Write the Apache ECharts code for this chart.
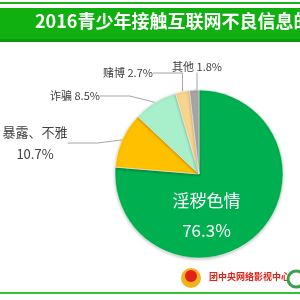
<!DOCTYPE html>
<html>
<head>
<meta charset="utf-8">
<script src="https://cdn.jsdelivr.net/npm/echarts@6/dist/echarts.min.js"></script>
<style>
  html, body { margin: 0; padding: 0; background: #fff; }
  #chart { width: 300px; height: 300px; }
</style>
</head>
<body>
<div id="chart"></div>
<script>
const titleText = '2016青少年接触互联网不良信息的类型'
const categories = ['淫秽色情', '暴露、不雅', '诈骗', '赌博', '其他']
const shares = [76.3, 10.7, 8.5, 2.7, 1.8]
const sliceColors = ['#00b050', '#ffc000', '#a8f0cb', '#f8d58c', '#a6a6a6']

const font = '"Noto Sans CJK SC", "Noto Sans", sans-serif'

// where the outside labels sit (excel style callouts)
const labelSpots = {
    1: { x: 35, y: 121, align: 'center', verticalAlign: 'top' },
    2: { x: 50, y: 96, align: 'left', verticalAlign: 'middle' },
    3: { x: 103, y: 73, align: 'left', verticalAlign: 'middle' },
    4: { x: 197, y: 67, align: 'center', verticalAlign: 'middle' }
}

let chart = echarts.init(document.getElementById('chart'))

let pieData = categories.map((name, i) => {
    let item = { name: name, value: shares[i], itemStyle: { color: sliceColors[i] } }
    if (i === 0) {
        item.label = {
            position: 'inside',
            color: '#fff',
            fontSize: 17,
            lineHeight: 30,
            formatter: '{b}\n{c}%'
        }
        item.labelLine = { show: false }
    }
    if (i === 1) {
        item.label = { formatter: '{b}\n{c}%', fontSize: 13, lineHeight: 22 }
    }
    return item
})

let options = {
    animation: false,
    backgroundColor: '#fff',
    graphic: [
        // top thin stripe + title band
        { type: 'rect', shape: { x: 0, y: 2, width: 300, height: 2 }, style: { fill: '#19b219' } },
        { type: 'rect', shape: { x: 0, y: 8, width: 300, height: 31 }, style: { fill: '#10b010' } },
        { type: 'rect', shape: { x: 0, y: 39, width: 300, height: 3 }, style: { fill: '#0c9a0c' } },
        {
            type: 'text', left: 35, top: 12,
            style: { text: titleText, fill: '#fff', font: 'bold 18px ' + font }
        },
        // bottom logos
        { type: 'circle', shape: { cx: 191, cy: 278, r: 10 }, style: { fill: '#f2b21c' } },
        { type: 'circle', shape: { cx: 191, cy: 276, r: 6 }, style: { fill: '#e2231a' } },
        {
            type: 'text', left: 209, top: 272,
            style: { text: '团中央网络影视中心', fill: '#e2231a', font: 'bold 9px "Noto Sans CJK SC", serif' }
        },
        { type: 'circle', shape: { cx: 296, cy: 279, r: 8 }, style: { fill: '#fff', stroke: '#3aa14a', lineWidth: 3 } },
        { type: 'rect', shape: { x: 0, y: 292, width: 300, height: 2 }, style: { fill: '#2ec52e' } }
    ],
    series: [
        {
            type: 'pie',
            center: [199, 174],
            radius: [0, 84],
            startAngle: 90,
            clockwise: true,
            avoidLabelOverlap: false,
            itemStyle: {
                borderColor: '#fff',
                borderWidth: 0.5,
                shadowBlur: 3,
                shadowColor: 'rgba(0,0,0,0.25)',
                shadowOffsetY: 1
            },
            label: {
                show: true,
                position: 'outside',
                color: '#404040',
                fontSize: 11,
                fontFamily: font,
                formatter: '{b} {c}%'
            },
            labelLine: {
                show: true,
                length: 14,
                length2: 30,
                lineStyle: { color: '#a6a6a6', width: 1 }
            },
            labelLayout: function (params) {
                if (params.dataIndex === 0) {
                    return { dx: -23, dy: 8 }
                }
                let spot = labelSpots[params.dataIndex]
                if (!spot) return {}
                return {
                    x: spot.x,
                    y: spot.y,
                    align: spot.align,
                    verticalAlign: spot.verticalAlign
                }
            },
            data: pieData
        }
    ]
}

options && chart.setOption(options)
</script>
</body>
</html>
